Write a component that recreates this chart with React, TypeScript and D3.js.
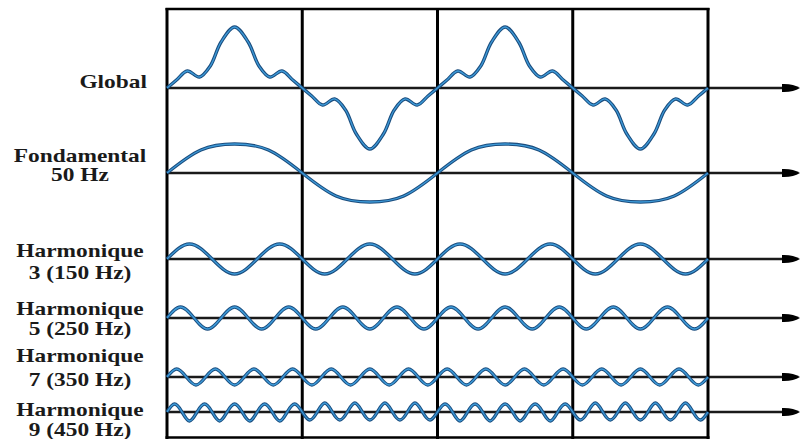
import React, { useRef, useEffect } from "react";
import * as d3 from "d3";

// row names, one or two lines each
const rowLabels = [
    ["Global"],
    ["Fondamental", "50 Hz"],
    ["Harmonique", "3 (150 Hz)"],
    ["Harmonique", "5 (250 Hz)"],
    ["Harmonique", "7 (350 Hz)"],
    ["Harmonique", "9 (450 Hz)"],
];

// each cell = half a period of the 50 Hz wave, sign flips cell to cell
const cellSigns = [1, -1, 1, -1];

// global wave, one cell (t = 0..1 across the cell)
const globalT = [0, 0.07, 0.15, 0.24, 0.32, 0.4, 0.5, 0.6, 0.68, 0.76, 0.85, 0.93, 1];
const globalV = [0, 8, 17, 11, 22, 46, 61, 46, 22, 11, 17, 8, 0];

// fundamental, one cell
const fundT = [0, 0.25, 0.5, 0.75, 1];
const fundV = [0, 23, 29, 23, 0];

// harmonics: peak of every half-wave inside one cell
const harm3Peaks = [15, -15, 15];
const harm5Peaks = [11, -11, 11, -11, 11];
const harm7Peaks = [8, -8, 8, -8, 8, -8, 8];
const harm9Peaks = [8, -9, 8, -9, 8, -9, 8, -9, 8];

const App = () => {
    const svgRef = useRef(null);

    useEffect(() => {
        const width = 800;
        const height = 439;
        const rowY = [88, 173, 259, 318, 377, 412];
        const labelY = [[88], [162, 181], [257, 279], [315, 335], [362, 386], [416, 436]];

        const svg = d3.select(svgRef.current).attr("width", width).attr("height", height);
        svg.selectAll("*").remove();

        const x = d3.scaleLinear().domain([0, 4]).range([167, 708]);
        const y = d3.scaleLinear().domain([-100, 100]).range([100, -100]);

        // build the points of a row from one cell shape
        const fromShape = (ts, vs) => {
            const pts = [];
            cellSigns.forEach((s, c) => {
                ts.forEach((t, i) => {
                    if (i === ts.length - 1) return;
                    pts.push([c + t, s * vs[i]]);
                });
            });
            pts.push([4, 0]);
            return pts;
        };
        const fromPeaks = (peaks) => {
            const n = peaks.length;
            const pts = [];
            cellSigns.forEach((s, c) => {
                peaks.forEach((p, k) => {
                    pts.push([c + k / n, 0]);
                    pts.push([c + (k + 0.5) / n, s * p]);
                });
            });
            pts.push([4, 0]);
            return pts;
        };

        const rows = [
            { pts: fromShape(globalT, globalV), curve: d3.curveCatmullRom },
            { pts: fromShape(fundT, fundV), curve: d3.curveNatural },
            { pts: fromPeaks(harm3Peaks), curve: d3.curveNatural },
            { pts: fromPeaks(harm5Peaks), curve: d3.curveNatural },
            { pts: fromPeaks(harm7Peaks), curve: d3.curveNatural },
            { pts: fromPeaks(harm9Peaks), curve: d3.curveNatural },
        ];

        // axes with arrows
        rowY.forEach((ry) => {
            svg.append("line")
                .attr("x1", x(0)).attr("x2", 786)
                .attr("y1", ry).attr("y2", ry)
                .attr("stroke", "#1a1a1a").attr("stroke-width", 2.4);
            svg.append("path")
                .attr("d", `M782,${ry - 4} Q793,${ry - 4.5} 800,${ry} Q793,${ry + 4.5} 782,${ry + 4} Z`)
                .attr("fill", "#000");
        });

        // box + cell borders
        svg.append("line")
            .attr("x1", x(0) - 1.5).attr("x2", x(4) + 1.5).attr("y1", 9).attr("y2", 9)
            .attr("stroke", "#000").attr("stroke-width", 2.5);
        svg.append("line")
            .attr("x1", x(0) - 1.5).attr("x2", x(4) + 1.5).attr("y1", 437.5).attr("y2", 437.5)
            .attr("stroke", "#000").attr("stroke-width", 2.5);
        d3.range(5).forEach((c) => {
            svg.append("line")
                .attr("x1", x(c)).attr("x2", x(c)).attr("y1", 8).attr("y2", 439)
                .attr("stroke", "#000").attr("stroke-width", 3);
        });

        // waves
        rows.forEach((r, i) => {
            const line = d3.line()
                .x((d) => x(d[0]))
                .y((d) => rowY[i] + y(d[1]))
                .curve(r.curve);
            svg.append("path").attr("d", line(r.pts))
                .attr("fill", "none").attr("stroke", "#1b4d7e").attr("stroke-width", 3.4)
                .attr("stroke-linejoin", "round");
            svg.append("path").attr("d", line(r.pts))
                .attr("fill", "none").attr("stroke", "#3d9ad8").attr("stroke-width", 1.3)
                .attr("stroke-linejoin", "round");
        });

        // labels
        rowLabels.forEach((lines, i) => {
            lines.forEach((txt, j) => {
                const isGlobal = i === 0;
                svg.append("text")
                    .attr("transform", `translate(${isGlobal ? 147 : 80}, ${labelY[i][j]}) scale(1.3, 1)`)
                    .attr("text-anchor", isGlobal ? "end" : "middle")
                    .style("font-family", "'Liberation Serif', 'DejaVu Serif', serif")
                    .style("font-size", "18px")
                    .style("font-weight", "bold")
                    .attr("fill", "#1a1a1a")
                    .text(txt);
            });
        });
    }, []);

    return (
        <div style={{ position: "fixed", left: 0, top: 0, background: "#fff" }}>
            <svg ref={svgRef} style={{ display: "block" }}></svg>
        </div>
    );
};

export default App;
